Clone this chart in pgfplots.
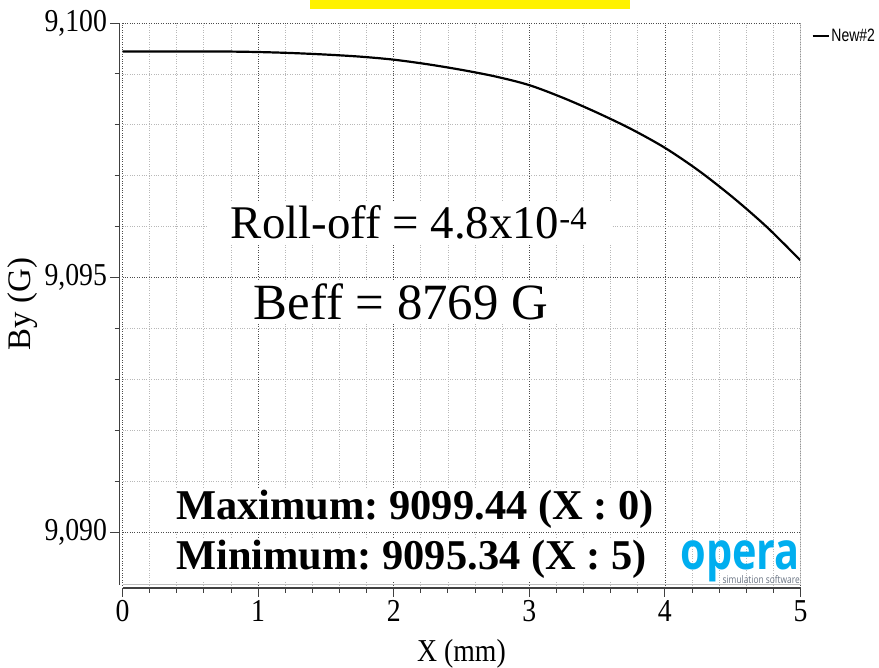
\documentclass[border=0pt]{standalone}
\usepackage{fontspec}
\setmainfont{Liberation Serif}
\newfontfamily\tickfont[FakeStretch=0.87]{Liberation Serif}
\newfontfamily\legfont[FakeStretch=0.78]{Liberation Sans}
\newfontfamily\logofont[FakeStretch=0.8]{Open Sans}
\usepackage{pgfplots}
\pgfplotsset{compat=1.18}
\definecolor{operablue}{RGB}{0,174,239}
\definecolor{operagray}{RGB}{105,115,130}

\begin{document}
\frenchspacing
\begin{tikzpicture}[x=1bp,y=1bp]
\fill[yellow] (310,659) rectangle (630,668);
\begin{axis}[
  at={(122.5bp,83bp)}, anchor=south west, scale only axis,
  width=678bp, height=562bp,
  xmin=0, xmax=5, ymin=9088.97, ymax=9100,
  axis x line*=bottom, axis y line*=left,
  axis x line shift=3bp, axis y line shift=3bp,
  xtick={0,1,2,3,4,5}, minor x tick num=4,
  ytick={9090,9095,9100}, minor y tick num=4,
  grid=both,
  major grid style={dotted, black!70, line width=0.8bp},
  minor grid style={dotted, black!28, line width=0.8bp},
  tick align=outside,
  major tick length=9bp, minor tick length=5bp,
  every tick/.style={black!75, line width=0.9bp},
  axis line style={black!75, line width=1.3bp, -},
  /pgf/number format/assume math mode=true,
  /pgf/number format/1000 sep={,},
  tick label style={font=\tickfont\fontsize{32}{32}\selectfont, text=black},
  xlabel={X (mm)}, ylabel={By (G)},
  xlabel style={font=\tickfont\fontsize{32}{32}\selectfont, at={(axis description cs:0.5,-0.137)}, anchor=base},
  ylabel style={font=\fontsize{33}{33}\selectfont, at={(axis description cs:-0.148,0.5)}, anchor=center},
  legend style={at={(1.015,0.995)}, anchor=north west, draw=none, fill=none,
    font=\legfont\fontsize{18}{18}\selectfont, inner sep=1bp},
  legend image code/.code={\draw[black, line width=1.6bp] (0bp,0bp) -- (16bp,0bp);},
]
\addplot[black, line width=2.2bp, smooth] coordinates {
(0,9099.44) (0.25,9099.44) (0.5,9099.44) (0.75,9099.44) (1.0,9099.43)
(1.25,9099.41) (1.5,9099.38) (1.75,9099.34) (2.0,9099.28) (2.25,9099.19)
(2.5,9099.08) (2.75,9098.95) (3.0,9098.78) (3.25,9098.53) (3.5,9098.24)
(3.75,9097.92) (4.0,9097.55) (4.25,9097.10) (4.5,9096.58) (4.75,9096.00)
(5.0,9095.34)};
\addlegendentry{New\#2}
\draw[black!25, line width=2bp] (rel axis cs:0,0) -- (rel axis cs:1,0) -- (rel axis cs:1,1);
\end{axis}
\node[fill=white, anchor=base, inner xsep=24bp, inner ysep=4bp, font=\fontsize{47}{47}\selectfont] at (409,429) {Roll-off = 4.8x10\textsuperscript{-4}};
\node[fill=white, anchor=base, inner xsep=22bp, inner ysep=4bp, font=\fontsize{51}{51}\selectfont] at (401,348) {Beff = 8769 G};
\node[fill=white, anchor=base west, inner xsep=2bp, inner ysep=2bp, font=\bfseries\fontsize{42.6}{42.6}\selectfont] at (174,148) {Maximum: 9099.44 (X : 0)};
\node[fill=white, anchor=base west, inner xsep=2bp, inner ysep=2bp, font=\bfseries\fontsize{42.6}{42.6}\selectfont] at (174,98) {Minimum: 9095.34 (X : 5)};
\node[anchor=base east, inner sep=0, text depth=0pt, text=operablue, font=\logofont\bfseries\fontsize{52}{52}\selectfont] at (800,98) {opera};
\node[anchor=base east, inner sep=0, text=operagray, font=\logofont\fontsize{10.5}{10.5}\selectfont] at (800,84.5) {simulation software};
\pgfresetboundingbox
\path[use as bounding box] (0,0) rectangle (879,668);
\end{tikzpicture}
\end{document}
